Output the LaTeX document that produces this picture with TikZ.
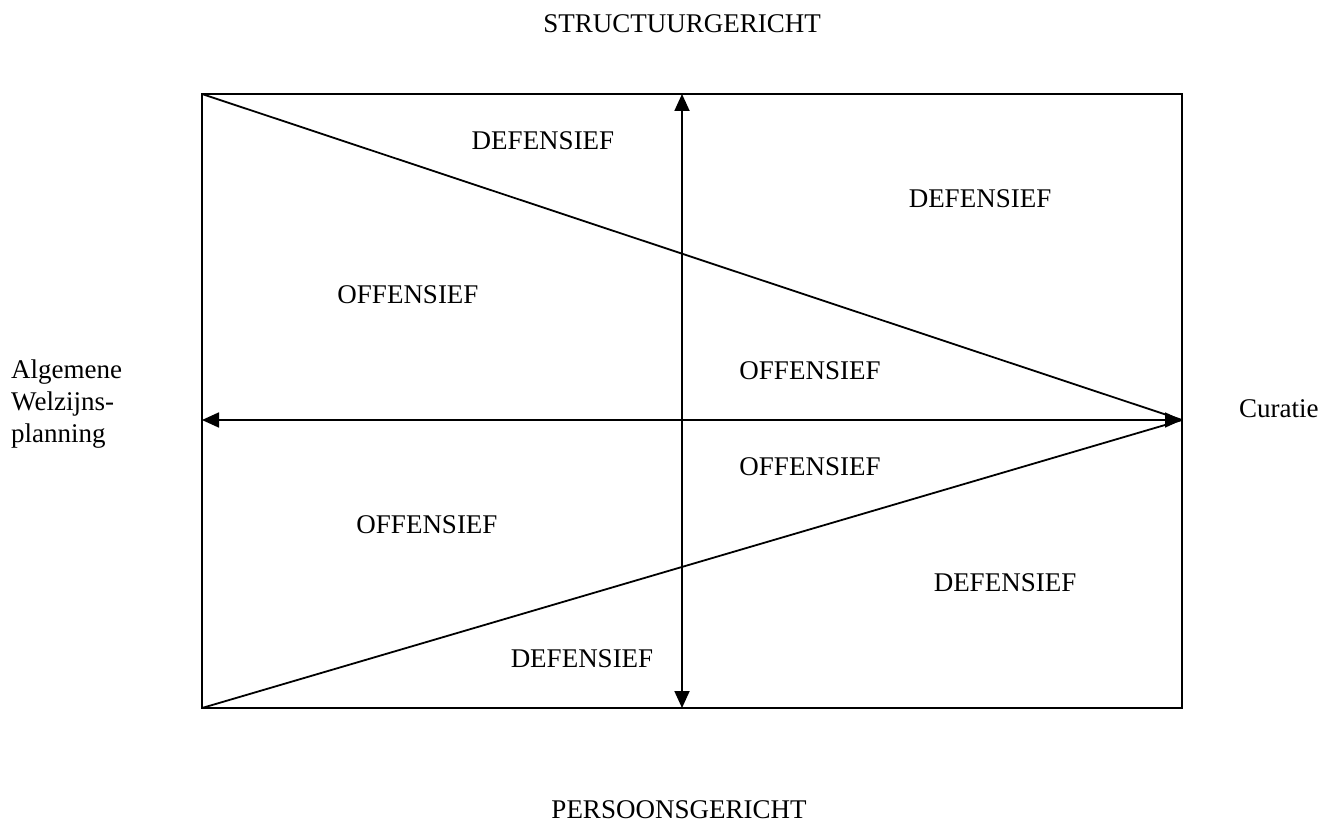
\documentclass[tikz,border=0pt]{standalone}
\usepackage{fontspec}
\setmainfont{Liberation Serif}
\usetikzlibrary{arrows.meta}
\tikzset{
  lbl/.style={anchor=base, inner sep=0pt, font=\fontsize{27}{34}\selectfont},
  edge/.style={line width=1.8pt, line join=miter},
  dbl/.style={line width=1.8pt, {Triangle[length=17pt,width=15pt]}-{Triangle[length=17pt,width=15pt]}, shorten <=0pt, shorten >=0pt}
}
\begin{document}
\begin{tikzpicture}[x=1pt,y=-1pt]
\useasboundingbox (0,0) rectangle (1340,824);
% frame corners and mid points
\coordinate (tl) at (202,94);
\coordinate (tr) at (1182,94);
\coordinate (bl) at (202,708);
\coordinate (br) at (1182,708);
\coordinate (ml) at (202,420);
\coordinate (mr) at (1182,420);
\coordinate (tm) at (682,94);
\coordinate (bm) at (682,708);
\draw[edge] (tl) rectangle (br);
\draw[edge] (tl) -- (mr);
\draw[edge] (bl) -- (mr);
\draw[dbl] (ml) -- (mr);
\draw[dbl] (tm) -- (bm);
% labels
\node[lbl] (top) at (682,33) {STRUCTUURGERICHT};
\node[lbl] (bot) at (679,818) {PERSOONSGERICHT};
\node[lbl] (d1) at (543,149) {DEFENSIEF};
\node[lbl] (d2) at (980,207) {DEFENSIEF};
\node[lbl] (o1) at (408,303) {OFFENSIEF};
\node[lbl] (o2) at (810,379) {OFFENSIEF};
\node[lbl] (o3) at (810,475) {OFFENSIEF};
\node[lbl] (o4) at (427,533) {OFFENSIEF};
\node[lbl] (d3) at (1005,591) {DEFENSIEF};
\node[lbl] (d4) at (582,667) {DEFENSIEF};
\node[lbl, anchor=base west] (cur) at (1239,417) {Curatie};
\node[lbl, anchor=base west] (alg1) at (11,378) {Algemene};
\node[lbl, anchor=base west] (alg2) at (11,410) {Welzijns-};
\node[lbl, anchor=base west] (alg3) at (11,442) {planning};
\end{tikzpicture}
\end{document}
